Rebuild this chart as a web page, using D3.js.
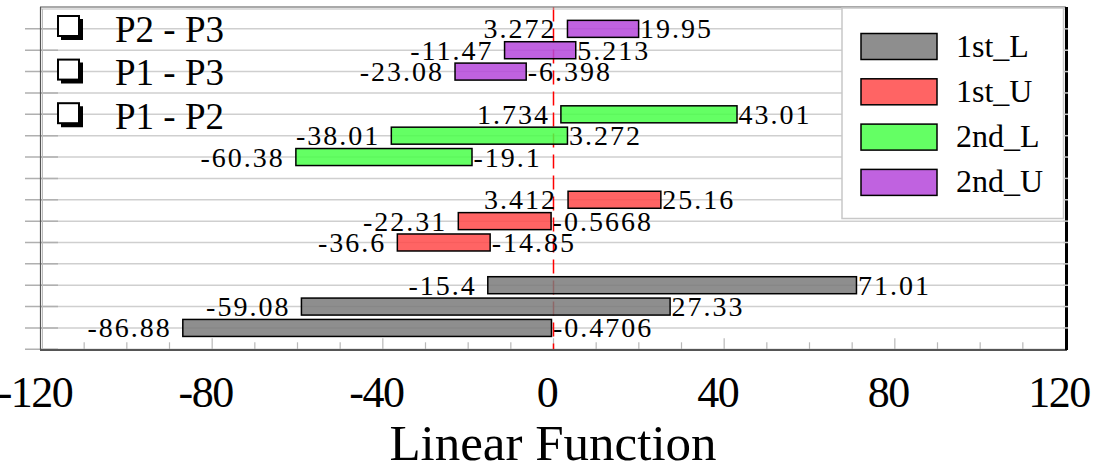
<!DOCTYPE html>
<html>
<head>
<meta charset="utf-8">
<script src="https://cdn.jsdelivr.net/npm/d3@7"></script>
<style>
  html, body { margin: 0; padding: 0; background: #fff; }
  svg { display: block; }
  text { font-family: "Liberation Serif", "Times New Roman", serif; fill: #000; }
</style>
</head>
<body>
<svg id="chart" width="1095" height="468"></svg>
<script>
// Pairwise comparisons, bottom to top inside each group
const pairs = ["P1 - P2", "P1 - P3", "P2 - P3"];
// Series, bottom group to top group
const seriesNames = ["1st_L", "1st_U", "2nd_L", "2nd_U"];
const seriesColors = ["#7a7a7a", "#ff4949", "#49ff49", "#b546da"];

// Interval ends for each series (one entry per pair)
const firstL_low  = [-86.88, -59.08, -15.4];
const firstL_high = [-0.4706, 27.33, 71.01];
const firstU_low  = [-36.6, -22.31, 3.412];
const firstU_high = [-14.85, -0.5668, 25.16];
const secondL_low  = [-60.38, -38.01, 1.734];
const secondL_high = [-19.1, 3.272, 43.01];
const secondU_low  = [-23.08, -11.47, 3.272];
const secondU_high = [-6.398, 5.213, 19.95];

const xTickValues = [-120, -80, -40, 0, 40, 80, 120];
const xTitle = "Linear Function";

const lows  = [firstL_low, firstU_low, secondL_low, secondU_low];
const highs = [firstL_high, firstU_high, secondL_high, secondU_high];

// Flatten into one record per bar
const bars = [];
seriesNames.forEach((s, g) => {
  pairs.forEach((p, i) => {
    bars.push({ series: s, g, pair: p, row: g * 4 + i + 1, lo: lows[g][i], hi: highs[g][i] });
  });
});

const svg = d3.select("#chart");

const plotL = 41.5, plotR = 1065.5, plotT = 7.5, plotB = 349.3;
const x = d3.scaleLinear().domain([-120, 120]).range([plotL, plotR]);
const y = d3.scaleLinear().domain([0, 16]).range([plotB, plotT]);
const color = d3.scaleOrdinal().domain(seriesNames).range(seriesColors);
const barH = 17;

// Horizontal grid lines, one per row
const rows = d3.range(0, 16);
svg.append("g").selectAll("line").data(rows).join("line")
  .attr("x1", 40).attr("x2", 1066)
  .attr("y1", d => y(d)).attr("y2", d => y(d))
  .attr("stroke", "#cfcfcf").attr("stroke-width", 1.5);

// Row ticks crossing the left edge
svg.append("g").selectAll("line").data(rows).join("line")
  .attr("x1", 25).attr("x2", 58)
  .attr("y1", d => y(d)).attr("y2", d => y(d))
  .attr("stroke", "#b0b0b0").attr("stroke-width", 1.5);

// Bottom ticks: minor every 10, major every 40
const minor = d3.range(-110, 120, 10);
svg.append("g").selectAll("line").data(minor).join("line")
  .attr("x1", d => x(d)).attr("x2", d => x(d))
  .attr("y1", plotB).attr("y2", d => plotB - (d % 40 === 0 ? 11 : 7))
  .attr("stroke", "#b8b8b8").attr("stroke-width", 1.2);

// Zero reference line
svg.append("line")
  .attr("x1", x(0)).attr("x2", x(0)).attr("y1", plotT).attr("y2", plotB)
  .attr("stroke", "#ff0000").attr("stroke-width", 1.5)
  .attr("stroke-dasharray", "14,7");

// Interval bars
svg.append("g").selectAll("rect").data(bars).join("rect")
  .attr("x", d => x(d.lo))
  .attr("y", d => y(d.row) - barH / 2)
  .attr("width", d => x(d.hi) - x(d.lo))
  .attr("height", barH)
  .attr("fill", d => color(d.series))
  .attr("fill-opacity", 0.85)
  .attr("stroke", "#000").attr("stroke-width", 1.5);

// End labels
const lab = svg.append("g").style("font-size", "28px").style("letter-spacing", "2px");
lab.selectAll("text.lo").data(bars).join("text").attr("class", "lo")
  .attr("x", d => x(d.lo) - 11)
  .attr("y", d => y(d.row) + 9.5)
  .attr("text-anchor", "end")
  .text(d => String(d.lo));
lab.selectAll("text.hi").data(bars).join("text").attr("class", "hi")
  .attr("x", d => x(d.hi) + 1.5)
  .attr("y", d => y(d.row) + 9.5)
  .attr("text-anchor", "start")
  .text(d => String(d.hi));

// Plot frame
svg.append("line").attr("x1", 40).attr("x2", 1066).attr("y1", 7).attr("y2", 7).attr("stroke", "#555").attr("stroke-width", 1.2);
svg.append("line").attr("x1", 41).attr("x2", 1066).attr("y1", 9).attr("y2", 9).attr("stroke", "#bbb").attr("stroke-width", 1);
svg.append("line").attr("x1", 40.5).attr("x2", 40.5).attr("y1", 7).attr("y2", 350).attr("stroke", "#555").attr("stroke-width", 1.2);
svg.append("line").attr("x1", 42.5).attr("x2", 42.5).attr("y1", 9).attr("y2", 350).attr("stroke", "#bbb").attr("stroke-width", 1);
svg.append("line").attr("x1", 40).attr("x2", 1067).attr("y1", 350).attr("y2", 350).attr("stroke", "#555").attr("stroke-width", 2);

// Series legend
const lg = svg.append("g");
lg.append("rect").attr("x", 842).attr("y", 8).attr("width", 221.5).attr("height", 210.5)
  .attr("fill", "#fff").attr("stroke", "#c8c8c8").attr("stroke-width", 1.5);
const li = lg.selectAll("g.item").data(seriesNames).join("g").attr("class", "item")
  .attr("transform", (d, i) => `translate(0,${33.5 + i * 45.3})`);
li.append("rect").attr("x", 861).attr("y", 0).attr("width", 76).attr("height", 26)
  .attr("fill", d => color(d)).attr("fill-opacity", 0.85)
  .attr("stroke", "#000").attr("stroke-width", 1.5);
li.append("text").attr("x", 956).attr("y", 23).style("font-size", "32px").text(d => d);

// Right edge of the frame with its row ticks
svg.append("line").attr("x1", 1066.5).attr("x2", 1066.5).attr("y1", 7).attr("y2", 350)
  .attr("stroke", "#000").attr("stroke-width", 3);
svg.append("g").selectAll("line").data(rows.slice(1)).join("line")
  .attr("x1", 1063).attr("x2", 1068)
  .attr("y1", d => y(d)).attr("y2", d => y(d))
  .attr("stroke", "#c8c8c8").attr("stroke-width", 1.5);

// Pair key with shadowed check boxes, top to bottom
const keyPairs = pairs.slice().reverse();
const kg = svg.append("g").selectAll("g").data(keyPairs).join("g")
  .attr("transform", (d, i) => `translate(0,${i * 43.6})`);
kg.append("path")
  .attr("d", "M61,36 H83 V19 H79 V36 Z M61,36 V40 H83 V36 Z")
  .attr("fill", "#000");
kg.append("rect").attr("x", 58).attr("y", 16).attr("width", 21).attr("height", 20)
  .attr("fill", "#fff").attr("stroke", "#000").attr("stroke-width", 2);
kg.append("text").attr("x", 115).attr("y", 41.5).style("font-size", "37px").text(d => d);

// X axis labels
const xAxis = d3.axisBottom(x).tickValues(xTickValues).tickSize(0).tickFormat(d => String(d));
const ax = svg.append("g").attr("transform", `translate(0,${plotB})`).call(xAxis);
ax.select(".domain").remove();
ax.selectAll("text")
  .attr("y", 58).attr("dy", 0).attr("dx", -7)
  .style("font-family", "'Liberation Serif', 'Times New Roman', serif")
  .style("font-size", "44px").style("letter-spacing", "-1.5px").attr("fill", "#000");

svg.append("text").attr("x", 553).attr("y", 460).attr("text-anchor", "middle")
  .style("font-size", "51px").text(xTitle);
</script>
</body>
</html>
